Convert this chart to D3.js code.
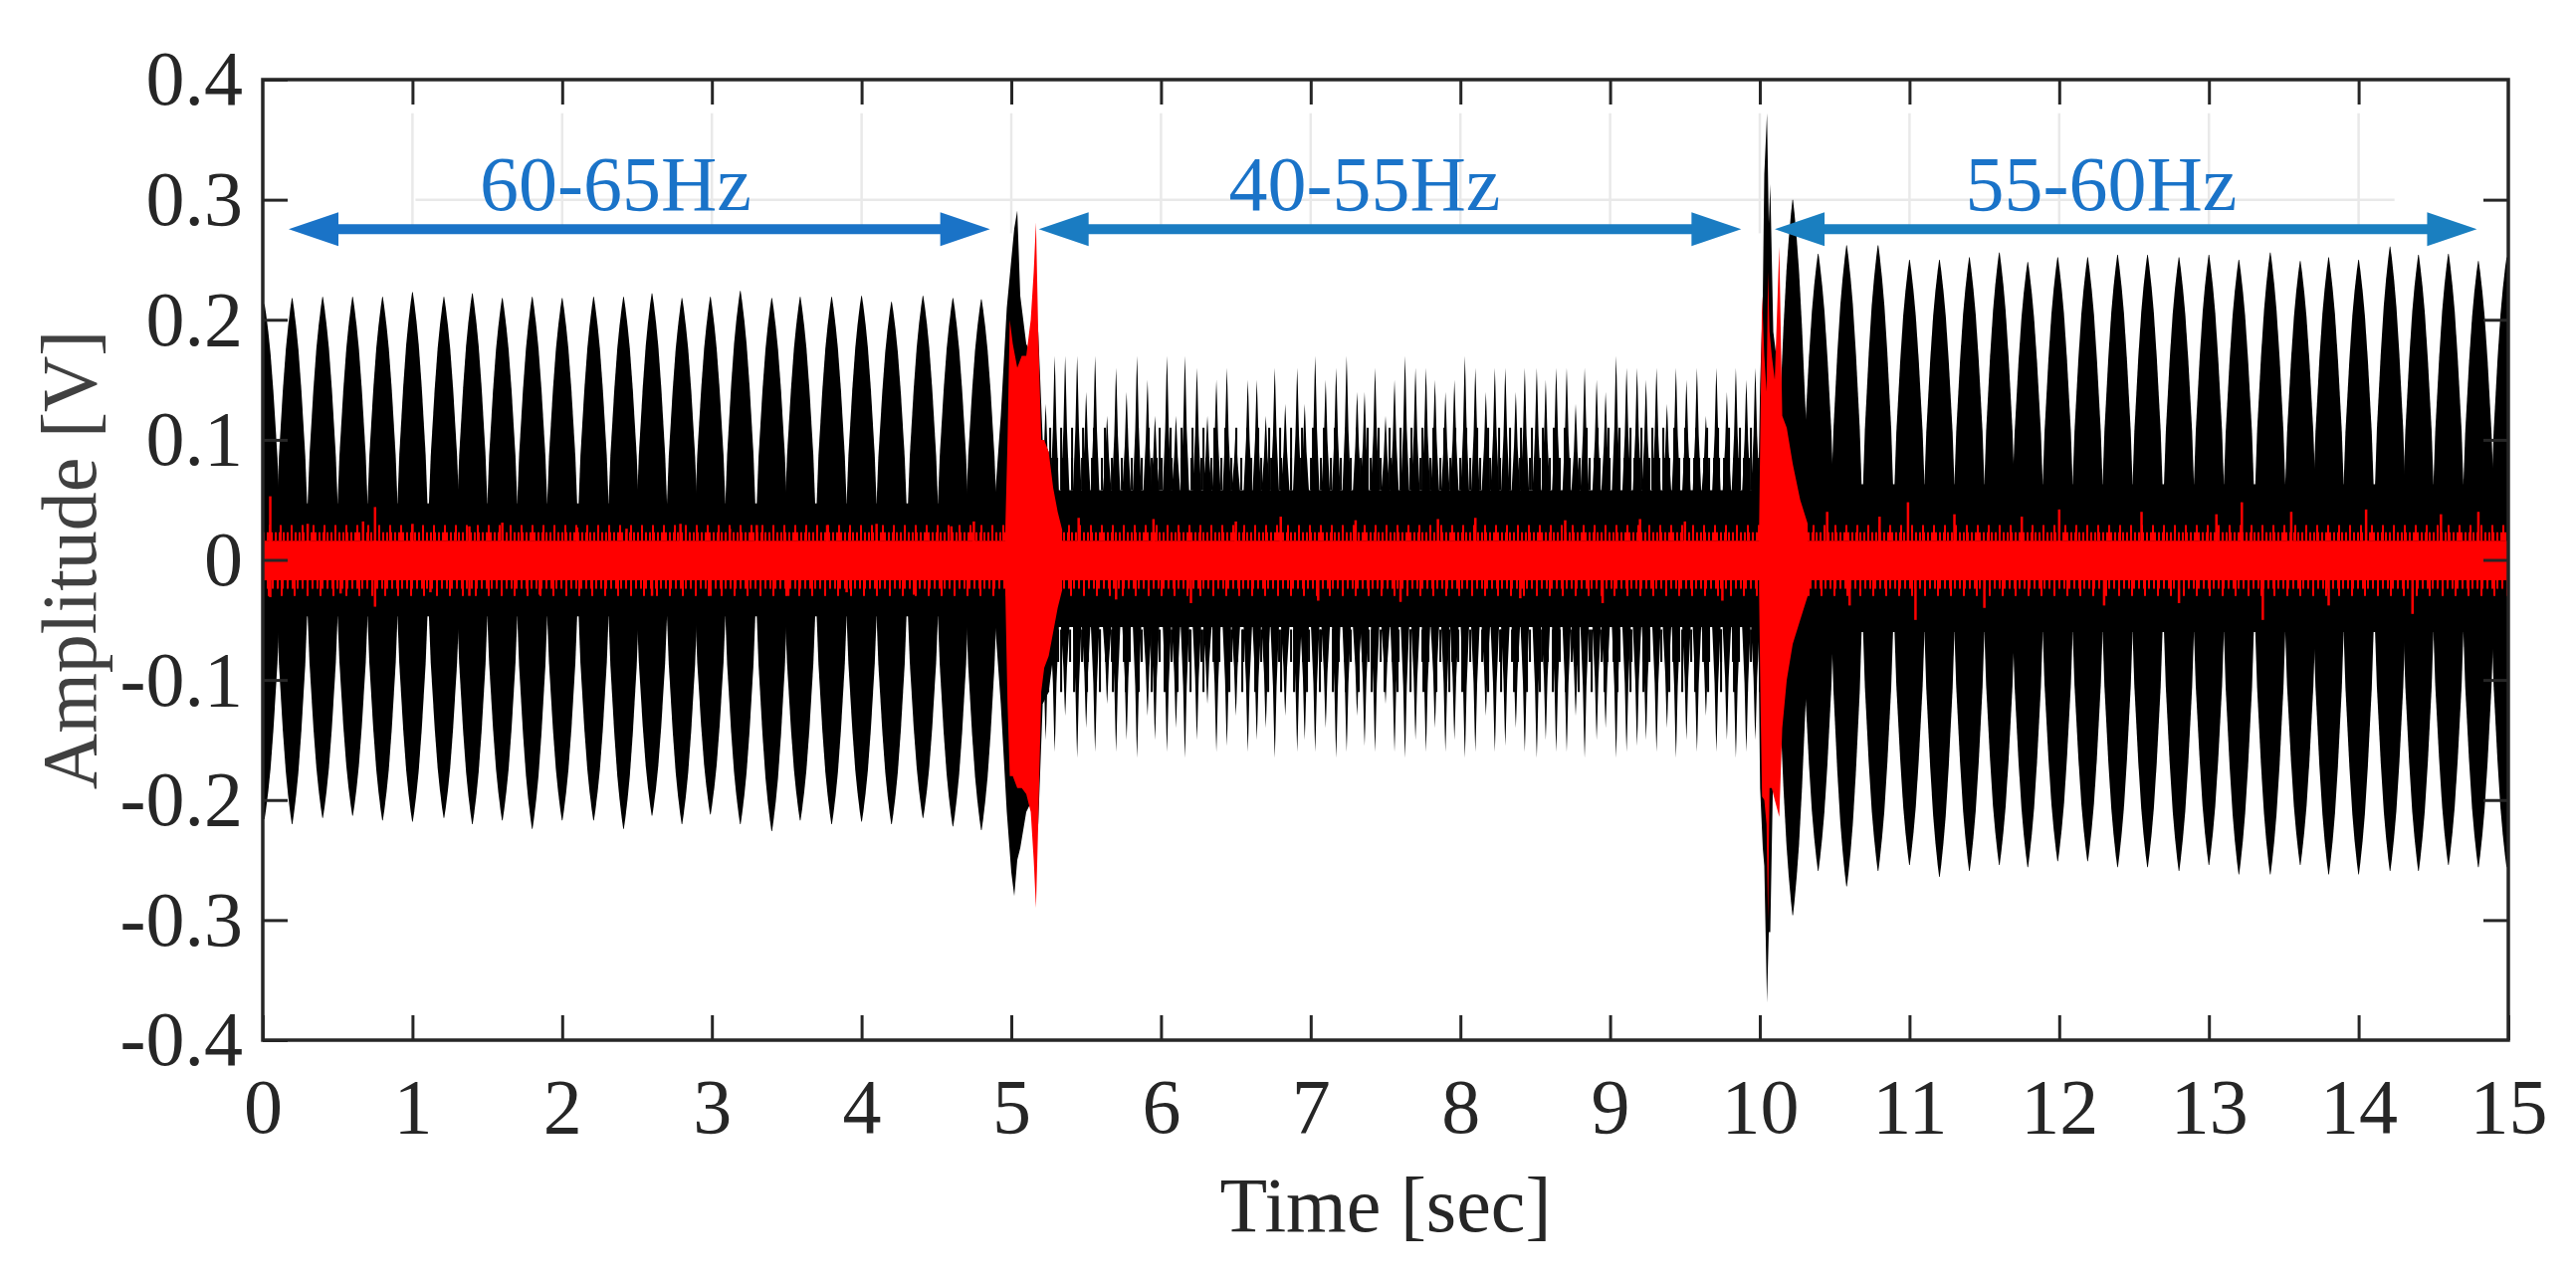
<!DOCTYPE html>
<html>
<head>
<meta charset="utf-8">
<script src="https://cdn.jsdelivr.net/npm/d3@7"></script>
<style>
  body { margin: 0; background: #fff; }
  svg { display: block; font-family: "Liberation Serif", "Times New Roman", serif; }
</style>
</head>
<body>
<div id="chart"></div>
<script>
// ---- data (time in sec, amplitude in V) ----
const xTicks = [0, 1, 2, 3, 4, 5, 6, 7, 8, 9, 10, 11, 12, 13, 14, 15];
const yTicks = [-0.4, -0.3, -0.2, -0.1, 0, 0.1, 0.2, 0.3, 0.4];
const yTickLabels = ["-0.4", "-0.3", "-0.2", "-0.1", "0", "0.1", "0.2", "0.3", "0.4"];

const bandNames = ["60-65Hz", "40-55Hz", "55-60Hz"];
const bandLabelTime = [2.357, 7.36, 12.28];
const arrowFrom = [0.173, 5.184, 10.10];
const arrowTo = [4.858, 9.876, 14.79];
const arrowLevel = 0.2755;
const labelLevel = 0.2915;

// black trace, dense band around zero
const coreT = [0, 5, 5, 10, 10, 15];
const coreTop = [0.047, 0.047, 0.058, 0.058, 0.063, 0.063];
const coreBot = [-0.047, -0.047, -0.056, -0.056, -0.06, -0.06];
// ragged edge of the 5-10 s band: [from, to] levels
const blackFringe = [[0.058, 0.085], [0.058, 0.11]];

// black trace, beat bursts 0-5 s
const burst1T = [0.01, 0.196, 0.40, 0.60, 0.80, 1.00, 1.21, 1.40, 1.60, 1.80, 2.00, 2.21, 2.41, 2.60, 2.80, 2.99, 3.19, 3.40, 3.59, 3.80, 4.00, 4.20, 4.41, 4.61, 4.80];
const burst1Top = [0.213, 0.218, 0.219, 0.219, 0.219, 0.223, 0.219, 0.222, 0.218, 0.219, 0.218, 0.219, 0.219, 0.222, 0.218, 0.219, 0.224, 0.218, 0.219, 0.219, 0.220, 0.215, 0.220, 0.218, 0.217];
const burst1Bot = [-0.216, -0.220, -0.215, -0.213, -0.217, -0.218, -0.215, -0.220, -0.217, -0.224, -0.217, -0.217, -0.224, -0.213, -0.220, -0.212, -0.220, -0.226, -0.217, -0.220, -0.218, -0.220, -0.215, -0.222, -0.225];

// black trace, beat bursts 10-15 s
const burst3T = [10.22, 10.39, 10.58, 10.79, 11.00, 11.20, 11.40, 11.60, 11.79, 11.99, 12.19, 12.39, 12.59, 12.80, 13.00, 13.20, 13.41, 13.61, 13.80, 14.00, 14.21, 14.40, 14.60, 14.80, 14.99];
const burst3Top = [0.300, 0.255, 0.262, 0.262, 0.250, 0.250, 0.252, 0.256, 0.248, 0.252, 0.252, 0.254, 0.254, 0.252, 0.254, 0.250, 0.256, 0.249, 0.252, 0.250, 0.261, 0.254, 0.255, 0.249, 0.252];
const burst3Bot = [-0.296, -0.259, -0.272, -0.259, -0.254, -0.264, -0.259, -0.254, -0.256, -0.251, -0.251, -0.256, -0.256, -0.259, -0.254, -0.262, -0.262, -0.254, -0.262, -0.262, -0.259, -0.259, -0.254, -0.256, -0.256];

// black trace, narrow spikes 5-10 s
const spikeT = [5.23, 5.29, 5.36, 5.44, 5.50, 5.56, 5.64, 5.70, 5.77, 5.84,
                5.91, 5.96, 6.04, 6.10, 6.16, 6.24, 6.31, 6.37, 6.44, 6.50,
                6.58, 6.64, 6.70, 6.76, 6.83, 6.91, 6.96, 7.03, 7.10, 7.17,
                7.24, 7.31, 7.36, 7.43, 7.50, 7.56, 7.63, 7.70, 7.77, 7.83,
                7.90, 7.96, 8.03, 8.10, 8.17, 8.23, 8.30, 8.37, 8.43, 8.51,
                8.57, 8.64, 8.71, 8.77, 8.83, 8.91, 8.97, 9.04, 9.11, 9.18,
                9.24, 9.31, 9.38, 9.44, 9.51, 9.58, 9.64, 9.71, 9.78, 9.84, 9.91, 9.97];
const spikeTop = [0.13, 0.17, 0.17, 0.17, 0.14, 0.17, 0.12, 0.16, 0.14, 0.17,
                  0.15, 0.12, 0.17, 0.12, 0.17, 0.16, 0.12, 0.15, 0.16, 0.11,
                  0.15, 0.15, 0.12, 0.16, 0.13, 0.16, 0.13, 0.17, 0.15, 0.16,
                  0.17, 0.14, 0.14, 0.16, 0.12, 0.15, 0.17, 0.16, 0.16, 0.15,
                  0.14, 0.15, 0.17, 0.16, 0.14, 0.16, 0.16, 0.14, 0.16, 0.16,
                  0.15, 0.16, 0.16, 0.13, 0.16, 0.15, 0.14, 0.17, 0.16, 0.16,
                  0.15, 0.16, 0.13, 0.16, 0.15, 0.16, 0.12, 0.16, 0.14, 0.16, 0.15, 0.16];
const spikeBot = [-0.15, -0.16, -0.13, -0.165, -0.14, -0.16, -0.12, -0.16, -0.15, -0.165,
                  -0.13, -0.15, -0.16, -0.14, -0.165, -0.15, -0.12, -0.16, -0.155, -0.13,
                  -0.16, -0.15, -0.14, -0.165, -0.13, -0.16, -0.15, -0.16, -0.14, -0.165,
                  -0.16, -0.13, -0.155, -0.16, -0.12, -0.16, -0.165, -0.15, -0.16, -0.14,
                  -0.16, -0.15, -0.165, -0.16, -0.13, -0.16, -0.155, -0.14, -0.16, -0.165,
                  -0.15, -0.16, -0.16, -0.13, -0.165, -0.15, -0.14, -0.165, -0.16, -0.155,
                  -0.15, -0.16, -0.14, -0.165, -0.15, -0.16, -0.13, -0.16, -0.15, -0.165, -0.16, -0.15];

// black trace, transients at the frequency switches
const jump5T = [4.89, 4.93, 4.97, 5.00, 5.02, 5.04, 5.06, 5.10, 5.14, 5.18, 5.21, 5.25, 5.30];
const jump5Top = [0.05, 0.12, 0.21, 0.25, 0.276, 0.291, 0.22, 0.18, 0.17, 0.19, 0.10, 0.09, 0.06];
const jump5Bot = [-0.05, -0.12, -0.21, -0.26, -0.28, -0.25, -0.24, -0.21, -0.20, -0.22, -0.12, -0.11, -0.06];
const jump10T = [9.99, 10.002, 10.02, 10.03, 10.048, 10.06, 10.07, 10.09, 10.12, 10.15, 10.17];
const jump10Top = [0.06, 0.146, 0.22, 0.321, 0.372, 0.28, 0.313, 0.19, 0.16, 0.14, 0.12];
const jump10Bot = [-0.06, -0.19, -0.24, -0.255, -0.369, -0.31, -0.31, -0.17, -0.16, -0.13, -0.12];

// red trace, noise band and transients
const redT = [0, 15];
const redTop = [0.016, 0.016];
const redBot = [-0.017, -0.017];
// ragged edge of the red band: [from, to] levels
const redFringe = [[0.016, 0.023], [0.016, 0.029], [-0.017, -0.024], [-0.017, -0.03]];
const red5T = [4.96, 4.975, 4.99, 5.01, 5.04, 5.07, 5.10, 5.13, 5.15, 5.165, 5.18, 5.20, 5.22, 5.25, 5.28, 5.31, 5.34];
const red5Top = [0.025, 0.10, 0.20, 0.18, 0.16, 0.17, 0.17, 0.20, 0.24, 0.281, 0.19, 0.10, 0.10, 0.09, 0.06, 0.04, 0.025];
const red5Bot = [-0.025, -0.12, -0.18, -0.18, -0.19, -0.19, -0.195, -0.21, -0.25, -0.29, -0.22, -0.11, -0.09, -0.08, -0.06, -0.04, -0.025];
const red10T = [9.995, 10.005, 10.015, 10.03, 10.045, 10.055, 10.065, 10.08, 10.10, 10.13, 10.15, 10.18, 10.22, 10.27, 10.32];
const red10Top = [0.025, 0.12, 0.22, 0.17, 0.14, 0.24, 0.19, 0.17, 0.15, 0.261, 0.12, 0.11, 0.08, 0.05, 0.03];
const red10Bot = [-0.025, -0.12, -0.197, -0.20, -0.22, -0.30, -0.19, -0.19, -0.20, -0.214, -0.14, -0.10, -0.07, -0.05, -0.03];
const redSpikeT = [0.05, 0.05, 0.30, 0.52, 0.67, 0.75, 0.75, 1.00, 1.12, 1.38, 1.38, 1.60, 1.85, 2.10, 2.43, 2.60, 2.79, 2.99, 3.12, 3.30, 3.51, 3.77, 3.90, 4.10, 4.35, 4.60, 4.75,
                   5.45, 5.70, 5.95, 6.20, 6.50, 6.80, 7.05, 7.30, 7.60, 7.85, 8.10, 8.40, 8.70, 8.95, 9.20, 9.50, 9.75,
                   10.45, 10.60, 10.80, 10.99, 11.04, 11.30, 11.50, 11.75, 12.00, 12.30, 12.55, 12.80, 13.05, 13.22, 13.36, 13.55, 13.80, 14.05, 14.36, 14.55, 14.80];
const redSpikeV = [0.053, -0.031, 0.030, -0.028, 0.032, 0.044, -0.039, 0.030, -0.027, 0.028, -0.030, 0.031, -0.029, 0.027, 0.026, -0.030, 0.030, -0.030, 0.026, 0.029, -0.030, 0.029, -0.027, 0.030, -0.029, 0.028, 0.032,
                   0.035, -0.033, 0.034, -0.036, 0.032, 0.036, -0.034, 0.033, -0.035, 0.034, 0.035, -0.032, 0.033, -0.036, 0.034, 0.032, -0.034,
                   0.040, -0.038, 0.036, 0.048, -0.050, 0.038, -0.040, 0.036, 0.042, -0.038, 0.040, -0.036, 0.038, 0.048, -0.050, 0.040, -0.038, 0.042, -0.045, 0.038, 0.040];

// shape of one beat burst: [time offset, share of the way from band to peak]
const burstShape = [[-0.1, 0], [-0.088, 0.23], [-0.062, 0.55], [-0.042, 0.75], [-0.027, 0.86], [-0.012, 0.95], [-0.002, 1],
                    [0.002, 1], [0.012, 0.95], [0.027, 0.86], [0.042, 0.75], [0.062, 0.55], [0.088, 0.23], [0.1, 0]];
const spikeShape = [[-0.028, 0], [-0.012, 0.45], [-0.004, 0.85], [0, 1], [0.004, 0.85], [0.012, 0.45], [0.028, 0]];

// ---- chart ----
const width = 2588, height = 1290;
const margin = {top: 80, right: 68, bottom: 245, left: 264};
const ink = "#262626";
const fontSize = 78;
const serif = "Liberation Serif, Times New Roman, serif";

const x = d3.scaleLinear().domain([0, 15]).range([margin.left, width - margin.right]);
const y = d3.scaleLinear().domain([-0.4, 0.4]).range([height - margin.bottom, margin.top]);

const svg = d3.select("#chart").append("svg")
    .attr("width", width)
    .attr("height", height)
    .attr("font-family", serif);

svg.append("defs").append("clipPath").attr("id", "plot")
  .append("rect")
    .attr("x", x(0)).attr("y", y(0.4))
    .attr("width", x(15) - x(0)).attr("height", y(-0.4) - y(0.4));

// faint grid, only visible in the band around the labels
const grid = svg.append("g").attr("stroke", "#e9e9e9").attr("stroke-width", 2.5);
grid.selectAll("line.v")
  .data(xTicks.filter(d => d > 0 && d < 15))
  .join("line")
    .attr("x1", d => x(d)).attr("x2", d => x(d))
    .attr("y1", y(0.372)).attr("y2", y(0.272));
grid.append("line")
    .attr("x1", x(1.02)).attr("x2", x(14.24))
    .attr("y1", y(0.3)).attr("y2", y(0.3));

const plot = svg.append("g").attr("clip-path", "url(#plot)");

const band = (ts, tops, bots) => d3.area()
    .x((d, i) => x(ts[i]))
    .y0((d, i) => y(bots[i]))
    .y1((d, i) => y(tops[i]))(ts);

function shapePoints(shape, c, top, bot, coreHi, coreLo) {
  const upper = shape.map(([dt, g]) => [x(c + dt), y(coreHi + (top - coreHi) * g)]);
  const lower = shape.slice().reverse().map(([dt, g]) => [x(c + dt), y(coreLo + (bot - coreLo) * g)]);
  return upper.concat(lower);
}

// comb of short strokes between two levels, gives the band a ragged edge
function fringe(g, t0, t1, [a, b], color, dash, offset) {
  g.append("line")
      .attr("x1", x(t0)).attr("x2", x(t1))
      .attr("y1", (y(a) + y(b)) / 2).attr("y2", (y(a) + y(b)) / 2)
      .attr("stroke", color)
      .attr("stroke-width", Math.abs(y(a) - y(b)))
      .attr("stroke-dasharray", dash)
      .attr("stroke-dashoffset", offset);
}

const black = plot.append("g").attr("fill", "#000");

black.append("path").attr("d", band(coreT, coreTop, coreBot));
fringe(black, 5.2, 10, blackFringe[0], "#000", "2 3", 0);
fringe(black, 5.2, 10, blackFringe[1], "#000", "2 9", 3);
fringe(black, 5.2, 10, blackFringe[0].map(v => -v), "#000", "2 4", 2);
fringe(black, 5.2, 10, blackFringe[1].map(v => -v), "#000", "2 11", 7);

black.selectAll("polygon.b1")
  .data(burst1T)
  .join("polygon")
    .attr("points", (d, i) => shapePoints(burstShape, d, burst1Top[i], burst1Bot[i], 0.047, -0.047).join(" "));

black.selectAll("polygon.b3")
  .data(burst3T)
  .join("polygon")
    .attr("points", (d, i) => shapePoints(burstShape, d, burst3Top[i], burst3Bot[i], 0.063, -0.06).join(" "));

black.selectAll("polygon.s2")
  .data(spikeT)
  .join("polygon")
    .attr("points", (d, i) => shapePoints(spikeShape, d, spikeTop[i], spikeBot[i], 0.058, -0.056).join(" "));

black.append("path").attr("d", band(jump5T, jump5Top, jump5Bot));
black.append("path").attr("d", band(jump10T, jump10Top, jump10Bot));

const red = plot.append("g").attr("fill", "#ff0000");
red.append("path").attr("d", band(redT, redTop, redBot));
fringe(red, 0, 15, redFringe[0], "#ff0000", "2 2", 0);
fringe(red, 0, 15, redFringe[1], "#ff0000", "2 9", 5);
fringe(red, 0, 15, redFringe[2], "#ff0000", "2 3", 1);
fringe(red, 0, 15, redFringe[3], "#ff0000", "2 11", 8);
red.append("path").attr("d", band(red5T, red5Top, red5Bot));
red.append("path").attr("d", band(red10T, red10Top, red10Bot));
red.selectAll("line.spike")
  .data(redSpikeT)
  .join("line")
    .attr("stroke", "#ff0000")
    .attr("stroke-width", 2.5)
    .attr("x1", d => x(d)).attr("x2", d => x(d))
    .attr("y1", y(0)).attr("y2", (d, i) => y(redSpikeV[i]));

// axes: ticks inside on all four sides, box drawn separately
const tickLen = 25;
function styleAxis(g) {
  g.attr("font-family", serif);
  g.select(".domain").remove();
  g.selectAll(".tick line").attr("stroke", ink).attr("stroke-width", 3);
  g.selectAll(".tick text")
    .attr("fill", ink)
    .attr("font-size", fontSize);
}

svg.append("g")
    .attr("transform", `translate(0,${y(-0.4)})`)
    .call(d3.axisBottom(x).tickValues(xTicks).tickFormat(d3.format("d"))
      .tickSizeInner(-tickLen).tickSizeOuter(0).tickPadding(38))
    .call(styleAxis);

svg.append("g")
    .attr("transform", `translate(0,${y(0.4)})`)
    .call(d3.axisTop(x).tickValues(xTicks.slice(1, -1)).tickFormat("")
      .tickSizeInner(-tickLen).tickSizeOuter(0))
    .call(styleAxis);

svg.append("g")
    .attr("transform", `translate(${x(0)},0)`)
    .call(d3.axisLeft(y).tickValues(yTicks).tickFormat((d, i) => yTickLabels[i])
      .tickSizeInner(-tickLen).tickSizeOuter(0).tickPadding(20))
    .call(styleAxis);

svg.append("g")
    .attr("transform", `translate(${x(15)},0)`)
    .call(d3.axisRight(y).tickValues(yTicks.slice(1, -1)).tickFormat("")
      .tickSizeInner(-tickLen).tickSizeOuter(0))
    .call(styleAxis);

svg.append("rect")
    .attr("x", x(0)).attr("y", y(0.4))
    .attr("width", x(15) - x(0)).attr("height", y(-0.4) - y(0.4))
    .attr("fill", "none")
    .attr("stroke", ink)
    .attr("stroke-width", 3.5);

svg.append("text")
    .attr("x", (x(0) + x(15)) / 2)
    .attr("y", 1237)
    .attr("text-anchor", "middle")
    .attr("font-size", fontSize)
    .attr("fill", ink)
    .text("Time [sec]");

svg.append("text")
    .attr("transform", `translate(96,${y(0)}) rotate(-90)`)
    .attr("text-anchor", "middle")
    .attr("font-size", fontSize)
    .attr("fill", "#404040")
    .text("Amplitude [V]");

// frequency band annotations
const arrowColor = ["#1a73c7", "#1a7cc2", "#1a7fc0"];
const headLen = 50, headHalf = 17;
const notes = svg.append("g");
bandNames.forEach((name, i) => {
  const a = x(arrowFrom[i]), b = x(arrowTo[i]), ay = y(arrowLevel);
  notes.append("line")
      .attr("x1", a + headLen - 2).attr("x2", b - headLen + 2)
      .attr("y1", ay).attr("y2", ay)
      .attr("stroke", arrowColor[i])
      .attr("stroke-width", 10);
  notes.append("polygon")
      .attr("fill", arrowColor[i])
      .attr("points", [[a, ay], [a + headLen, ay - headHalf], [a + headLen, ay + headHalf]].join(" "));
  notes.append("polygon")
      .attr("fill", arrowColor[i])
      .attr("points", [[b, ay], [b - headLen, ay - headHalf], [b - headLen, ay + headHalf]].join(" "));
  notes.append("text")
      .attr("x", x(bandLabelTime[i]))
      .attr("y", y(labelLevel))
      .attr("text-anchor", "middle")
      .attr("font-size", fontSize)
      .attr("fill", "#1a73c8")
      .text(name);
});
</script>
</body>
</html>
